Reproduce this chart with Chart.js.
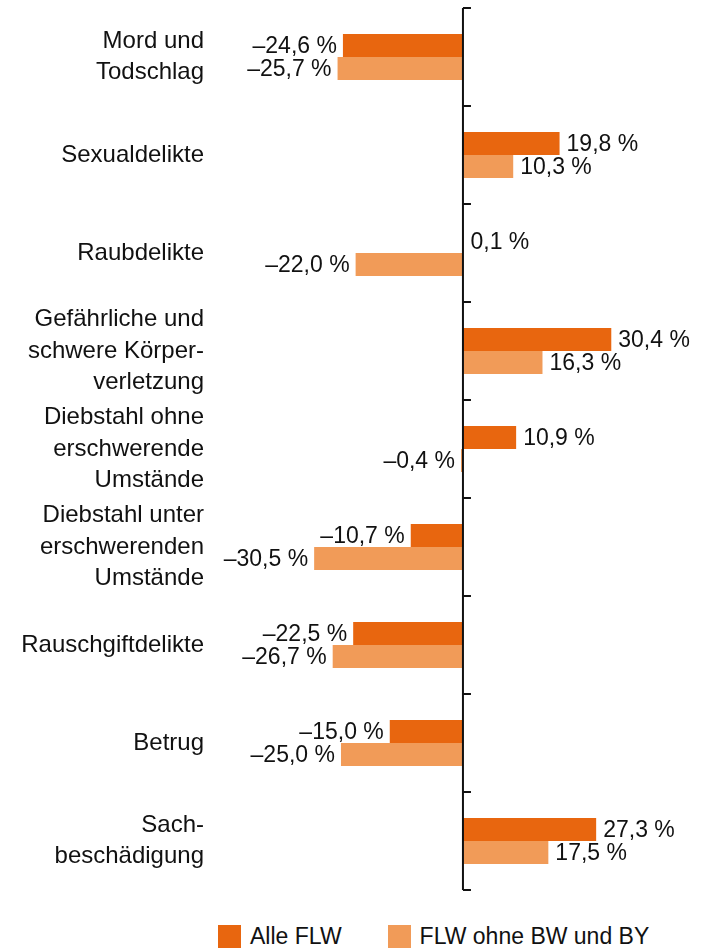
<!DOCTYPE html>
<html lang="de">
<head>
<meta charset="utf-8">
<title>Veränderung Fallzahlen</title>
<script src="https://cdn.jsdelivr.net/npm/chart.js@4/dist/chart.umd.min.js"></script>
<style>
  html, body { margin: 0; padding: 0; background: #fff; }
  body { width: 718px; height: 950px; position: relative; font-family: "Liberation Sans", Arial, sans-serif; }
  #wrap { position: absolute; left: 0; top: 0; width: 718px; height: 900px; }
  #legend { position: absolute; left: 218px; top: 923px; display: flex; align-items: center; font-size: 23px; color: #111; }
  #legend .item { display: flex; align-items: center; margin-right: 46px; }
  #legend .box { width: 23px; height: 23px; margin-right: 9px; }
</style>
</head>
<body>
<div id="wrap"><canvas id="chart"></canvas></div>
<div id="legend"></div>

<script>
const categories = [
  ['Mord und', 'Todschlag'],
  'Sexualdelikte',
  'Raubdelikte',
  ['Gefährliche und', 'schwere Körper-', 'verletzung'],
  ['Diebstahl ohne', 'erschwerende', 'Umstände'],
  ['Diebstahl unter', 'erschwerenden', 'Umstände'],
  'Rauschgiftdelikte',
  'Betrug',
  ['Sach-', 'beschädigung']
];
const seriesNames = ['Alle FLW', 'FLW ohne BW und BY'];
const alleFlw = [-24.6, 19.8, 0.1, 30.4, 10.9, -10.7, -22.5, -15.0, 27.3];
const ohneBwBy = [-25.7, 10.3, -22.0, 16.3, -0.4, -30.5, -26.7, -25.0, 17.5];
const colors = ['#e8660f', '#f19b58'];

const FONT = '"Liberation Sans", Arial, sans-serif';
const fmt = v => (v < 0 ? '\u2013' : '') + Math.abs(v).toFixed(1).replace('.', ',') + ' %';

// zero line with small ticks at the category borders
const axisPlugin = {
  id: 'zeroAxis',
  afterDatasetsDraw(chart) {
    const { ctx, chartArea, scales } = chart;
    const x0 = scales.x.getPixelForValue(0);
    const n = categories.length;
    const step = (chartArea.bottom - chartArea.top) / n;
    ctx.save();
    ctx.strokeStyle = '#111';
    ctx.lineWidth = 2;
    ctx.beginPath();
    ctx.moveTo(x0, chartArea.top);
    ctx.lineTo(x0, chartArea.bottom);
    for (let i = 0; i <= n; i++) {
      const y = chartArea.top + i * step;
      ctx.moveTo(x0, y);
      ctx.lineTo(x0 + 8, y);
    }
    ctx.stroke();
    ctx.restore();
  }
};

const valueLabels = {
  id: 'valueLabels',
  afterDraw(chart) {
    const { ctx } = chart;
    ctx.save();
    ctx.font = '23px ' + FONT;
    ctx.fillStyle = '#111';
    ctx.textBaseline = 'middle';
    chart.data.datasets.forEach((ds, di) => {
      chart.getDatasetMeta(di).data.forEach((bar, i) => {
        const v = ds.data[i];
        if (v < 0) {
          ctx.textAlign = 'right';
          ctx.fillText(fmt(v), bar.x - 6, bar.y + 1);
        } else {
          ctx.textAlign = 'left';
          ctx.fillText(fmt(v), bar.x + 7, bar.y + 1);
        }
      });
    });
    ctx.restore();
  }
};

new Chart(document.getElementById('chart'), {
  type: 'bar',
  data: {
    labels: categories,
    datasets: [
      { label: seriesNames[0], data: alleFlw, backgroundColor: colors[0], borderWidth: 0 },
      { label: seriesNames[1], data: ohneBwBy, backgroundColor: colors[1], borderWidth: 0 }
    ]
  },
  options: {
    indexAxis: 'y',
    responsive: true,
    maintainAspectRatio: false,
    animation: false,
    categoryPercentage: 0.47,
    barPercentage: 1.0,
    layout: { padding: { top: 8, bottom: 10, right: 55, left: 0 } },
    scales: {
      x: {
        display: false,
        min: -50,
        max: 41
      },
      y: {
        grid: { display: false, drawTicks: false },
        border: { display: false },
        ticks: {
          color: '#111',
          padding: 15,
          font: { family: FONT, size: 24, lineHeight: 1.3 }
        },
        afterFit(scale) {
          scale.width = 219;
          scale.paddingTop = 0;
          scale.paddingBottom = 0;
        }
      }
    },
    plugins: {
      legend: { display: false },
      tooltip: { enabled: false }
    }
  },
  plugins: [axisPlugin, valueLabels]
});

document.getElementById('legend').innerHTML = seriesNames.map((name, i) =>
  `<div class="item"><span class="box" style="background:${colors[i]}"></span><span>${name}</span></div>`
).join('');
</script>
</body>
</html>
